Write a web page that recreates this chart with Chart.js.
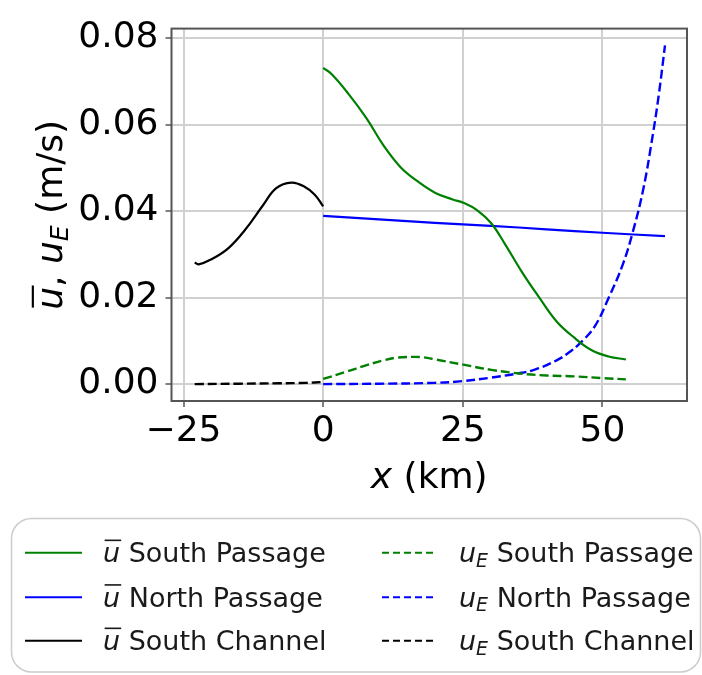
<!DOCTYPE html>
<html>
<head>
<meta charset="utf-8">
<script src="https://cdn.jsdelivr.net/npm/chart.js@4/dist/chart.umd.min.js"></script>
<style>
html,body{margin:0;padding:0;background:#fff;}
canvas{display:block;}
</style>
</head>
<body>
<canvas id="c" width="702" height="675"></canvas>
<script>
// ---- data ----
const xTicks = [-25, 0, 25, 50];
const yTicks = [0, 0.02, 0.04, 0.06, 0.08];
const channelNames = ['South Passage', 'North Passage', 'South Channel'];

// South Passage, mean velocity
const xSouthPassage = [0, 1.5, 4.6, 7.8, 10.8, 13.9, 17.0, 20.1, 23.2, 25.2, 27.6, 30.1, 32.5, 35.6, 38.7, 41.8, 44.9, 48.0, 51.1, 54.2];
const uSouthPassage = [0.0731, 0.0717, 0.0670, 0.0614, 0.0552, 0.0501, 0.0468, 0.0442, 0.0427, 0.0419, 0.0402, 0.0372, 0.0325, 0.0259, 0.0200, 0.0145, 0.0108, 0.0079, 0.0064, 0.0057];
// South Passage, u_E
const xSouthPassageE = [0, 4.0, 7.8, 10.8, 13.0, 15.8, 18.0, 20.1, 25.1, 30.1, 35.6, 40.0, 44.9, 50.0, 54.2];
const uESouthPassage = [0.0012, 0.0028, 0.0044, 0.0055, 0.0061, 0.0063, 0.0062, 0.0057, 0.0045, 0.0033, 0.0024, 0.0020, 0.0018, 0.0014, 0.0011];

// North Passage, mean velocity
const xNorthPassage = [0, 10, 20, 30, 40, 50, 61.2];
const uNorthPassage = [0.0389, 0.0381, 0.0373, 0.0366, 0.0358, 0.0350, 0.0342];
// North Passage, u_E
const xNorthPassageE = [0, 10, 20, 25, 30, 35, 38, 41.8, 44, 46.1, 48.6, 51.1, 53.6, 55.4, 57.3, 59.0, 60.1, 61.2];
const uENorthPassage = [0.0000, 0.0001, 0.0003, 0.0007, 0.0015, 0.0025, 0.0034, 0.0055, 0.0073, 0.0096, 0.0133, 0.0199, 0.0275, 0.0350, 0.0450, 0.0575, 0.0670, 0.0783];

// South Channel, mean velocity
const xSouthChannel = [-23.0, -22.3, -20.1, -17.0, -13.9, -10.8, -8.4, -5.7, -3.4, -1.5, 0];
const uSouthChannel = [0.0281, 0.0277, 0.0288, 0.0314, 0.0358, 0.0413, 0.0453, 0.0466, 0.0457, 0.0438, 0.0411];
// South Channel, u_E
const xSouthChannelE = [-23.0, -15.0, -8.0, -3.0, 0];
const uESouthChannel = [0.0000, 0.0001, 0.0002, 0.0003, 0.0005];

// ---- helpers ----
const pts = (xs, ys) => xs.map((x, i) => ({x: x, y: ys[i]}));
const FONT = '"DejaVu Sans", "Liberation Sans", sans-serif';
const GREEN = '#008000', BLUE = '#0000ff', BLACK = '#000000';

function mk(label, xs, ys, color, dashed, kind, name) {
  return {
    label: label, data: pts(xs, ys), borderColor: color, backgroundColor: color,
    borderWidth: dashed ? 2.4 : 2.2, borderDash: dashed ? [9, 4] : [],
    pointRadius: 0, pointHoverRadius: 0, fill: false,
    tension: 0.4, kind: kind, name: name
  };
}

const datasets = [
  mk('ū South Passage', xSouthPassage, uSouthPassage, GREEN, false, 'u', channelNames[0]),
  mk('ū North Passage', xNorthPassage, uNorthPassage, BLUE, false, 'u', channelNames[1]),
  mk('ū South Channel', xSouthChannel, uSouthChannel, BLACK, false, 'u', channelNames[2]),
  mk('uE South Passage', xSouthPassageE, uESouthPassage, GREEN, true, 'uE', channelNames[0]),
  mk('uE North Passage', xNorthPassageE, uENorthPassage, BLUE, true, 'uE', channelNames[1]),
  mk('uE South Channel', xSouthChannelE, uESouthChannel, BLACK, true, 'uE', channelNames[2])
];

// draw italic u with overline (kind 'u') or u with subscript E (kind 'uE'); returns width
function drawSymbol(ctx, kind, x, y, size) {
  ctx.font = 'italic ' + size + 'px ' + FONT;
  ctx.textBaseline = 'alphabetic';
  ctx.textAlign = 'left';
  ctx.fillText('u', x, y);
  let w = ctx.measureText('u').width;
  if (kind === 'u') {
    ctx.save();
    ctx.lineWidth = Math.max(1.5, size * 0.06);
    ctx.strokeStyle = ctx.fillStyle;
    ctx.beginPath();
    ctx.moveTo(x + size * 0.06, y - size * 0.81);
    ctx.lineTo(x + w + size * 0.04, y - size * 0.81);
    ctx.stroke();
    ctx.restore();
    return w;
  } else {
    const ss = size * 0.7;
    ctx.font = 'italic ' + ss + 'px ' + FONT;
    ctx.fillText('E', x + w, y + size * 0.16);
    w += ctx.measureText('E').width;
    return w;
  }
}

const decorPlugin = {
  id: 'decor',
  afterDatasetsDraw(chart) {
    const ctx = chart.ctx, a = chart.chartArea;
    ctx.save();
    ctx.strokeStyle = '#555555';
    ctx.lineWidth = 2;
    ctx.strokeRect(a.left, a.top, a.right - a.left, a.bottom - a.top);
    ctx.restore();
  },
  afterDraw(chart) {
    const ctx = chart.ctx, a = chart.chartArea;
    ctx.save();
    ctx.fillStyle = '#000';
    // x axis title
    const size = 36;
    ctx.font = 'italic ' + size + 'px ' + FONT;
    const wx = ctx.measureText('x').width;
    ctx.font = size + 'px ' + FONT;
    const wr = ctx.measureText(' (km)').width;
    const cx = (a.left + a.right) / 2;
    let sx = cx - (wx + wr) / 2;
    ctx.textBaseline = 'alphabetic';
    ctx.textAlign = 'left';
    ctx.font = 'italic ' + size + 'px ' + FONT;
    ctx.fillText('x', sx, 488);
    ctx.font = size + 'px ' + FONT;
    ctx.fillText(' (km)', sx + wx, 488);

    // y axis title (rotated)
    ctx.save();
    const cy = (a.top + a.bottom) / 2;
    ctx.translate(62, cy);
    ctx.rotate(-Math.PI / 2);
    ctx.font = 'italic ' + size + 'px ' + FONT;
    const wu = ctx.measureText('u').width;
    ctx.font = 'italic ' + (size * 0.7) + 'px ' + FONT;
    const wE = ctx.measureText('E').width;
    ctx.font = size + 'px ' + FONT;
    const wc = ctx.measureText(', ').width;
    const wm = ctx.measureText(' (m/s)').width;
    const total = wu + wc + wu + wE + wm;
    let px = -total / 2;
    px += drawSymbol(ctx, 'u', px, 0, size);
    ctx.font = size + 'px ' + FONT;
    ctx.fillText(', ', px, 0);
    px += wc;
    px += drawSymbol(ctx, 'uE', px, 0, size);
    ctx.font = size + 'px ' + FONT;
    ctx.fillText(' (m/s)', px, 0);
    ctx.restore();

    // legend box
    const L = 11.5, T = 518.5, R = 700.5, B = 672, rad = 20;
    ctx.beginPath();
    ctx.moveTo(L + rad, T);
    ctx.lineTo(R - rad, T);
    ctx.arcTo(R, T, R, T + rad, rad);
    ctx.lineTo(R, B - rad);
    ctx.arcTo(R, B, R - rad, B, rad);
    ctx.lineTo(L + rad, B);
    ctx.arcTo(L, B, L, B - rad, rad);
    ctx.lineTo(L, T + rad);
    ctx.arcTo(L, T, L + rad, T, rad);
    ctx.closePath();
    ctx.fillStyle = 'rgba(255,255,255,0.85)';
    ctx.fill();
    ctx.strokeStyle = '#cccccc';
    ctx.lineWidth = 1.5;
    ctx.stroke();

    const rows = [552.7, 597.3, 640.7];
    const lsize = 27;
    chart.data.datasets.forEach((ds, i) => {
      const col = ds.kind === 'u' ? 0 : 1;
      const row = i % 3;
      const y = rows[row];
      const lx0 = col === 0 ? 25 : 382;
      const lx1 = col === 0 ? 82 : 436;
      ctx.save();
      ctx.strokeStyle = ds.borderColor;
      ctx.lineWidth = 2;
      ctx.setLineDash(ds.borderDash.length ? [7, 4] : []);
      ctx.beginPath();
      ctx.moveTo(lx0, y);
      ctx.lineTo(lx1, y);
      ctx.stroke();
      ctx.restore();
      ctx.fillStyle = '#1a1a1a';
      const tx = col === 0 ? 103 : 459;
      const tyb = y + 9.5;
      const w = drawSymbol(ctx, ds.kind, tx, tyb, lsize);
      ctx.font = lsize + 'px ' + FONT;
      ctx.textAlign = 'left';
      ctx.fillText(' ' + ds.name, tx + w, tyb);
    });
    ctx.restore();
  }
};

new Chart(document.getElementById('c'), {
  type: 'line',
  data: {datasets: datasets},
  plugins: [decorPlugin],
  options: {
    responsive: false,
    devicePixelRatio: 1,
    animation: false,
    events: [],
    layout: {padding: {top: 12, right: 15, left: 0, bottom: 0}},
    plugins: {legend: {display: false}, tooltip: {enabled: false}, title: {display: false}},
    scales: {
      x: {
        type: 'linear', min: -27.15, max: 65.14,
        afterBuildTicks: s => { s.ticks = xTicks.map(v => ({value: v})); },
        afterFit: s => { s.height = 274; },
        ticks: {
          font: {family: FONT, size: 36}, color: '#000', padding: 3,
          maxRotation: 0, autoSkip: false,
          callback: v => (v < 0 ? '\u2212' + Math.abs(v) : String(v))
        },
        grid: {color: '#d0d0d0', lineWidth: 2, tickLength: 6, tickColor: '#555', tickWidth: 1.5},
        border: {display: false}
      },
      y: {
        type: 'linear', min: -0.0039, max: 0.0822,
        afterBuildTicks: s => { s.ticks = yTicks.map(v => ({value: v})); },
        afterFit: s => { s.width = 171.5; },
        ticks: {
          font: {family: FONT, size: 36}, color: '#000', padding: 7, autoSkip: false,
          callback: v => Number(v).toFixed(2)
        },
        grid: {color: '#d0d0d0', lineWidth: 2, tickLength: 6, tickColor: '#555', tickWidth: 1.5},
        border: {display: false}
      }
    }
  }
});
</script>
</body>
</html>
